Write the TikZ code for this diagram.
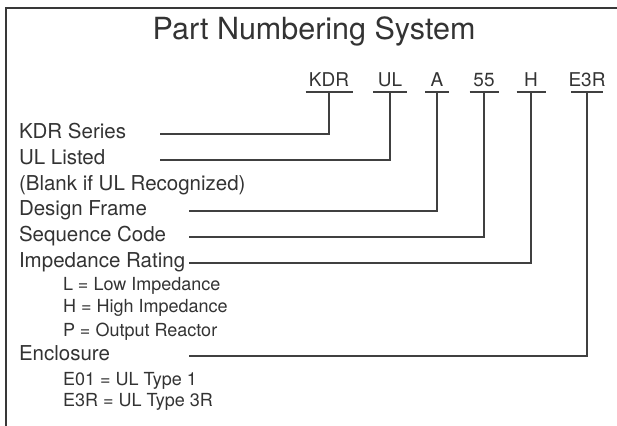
\documentclass[tikz,border=0pt]{standalone}
\usepackage{fontspec}
\setmainfont{TeX Gyre Heros}
\usetikzlibrary{calc}
\definecolor{frameGray}{gray}{0.22}
\definecolor{leadGray}{gray}{0.25}
\definecolor{inkGray}{gray}{0.2}
\def\myGap{4}

\begin{document}
\begin{tikzpicture}[x=1pt,y=-1pt]
      \tikzstyle{every node} = [inner sep=0pt, outer sep=0pt, text=inkGray]
      \tikzstyle{heading} = [font=\fontsize{30.5}{30.5}\selectfont, anchor=base]
      \tikzstyle{codeBox} = [font=\fontsize{19}{19}\selectfont, anchor=base, text depth=0pt, inner ysep=5pt]
      \tikzstyle{fieldText} = [font=\fontsize{20.5}{20.5}\selectfont, anchor=base west]
      \tikzstyle{optionText} = [font=\fontsize{18}{18}\selectfont, anchor=base west]
      \tikzstyle{leader} = [draw=leadGray, line width=1.1pt]
      \useasboundingbox (0,0) rectangle (617,425);
      % Frame
      \draw[frameGray, line width=2.6pt] (6,430) |- (622,8);
      \node[heading](title) at (314,40){Part Numbering System};
      % Code fields
      \node[codeBox, minimum width=47pt](kdr) at (329,87){KDR};
      \node[codeBox, minimum width=34pt](ul) at (390,87){UL};
      \node[codeBox, minimum width=24pt](frame) at (437,87){A};
      \node[codeBox, minimum width=29pt](seq) at (484,87){55};
      \node[codeBox, minimum width=29pt](imp) at (531,87){H};
      \node[codeBox, minimum width=32pt, inner xsep=-3pt](encl) at (587,87){E3R};
      \foreach \f in {kdr,ul,frame,seq,imp,encl}
        \draw[leader] (\f.south west) -- (\f.south east);
      % Descriptions
      \node[fieldText](kdrText) at (19,138){KDR Series};
      \node[fieldText](ulText) at (19,164){UL Listed};
      \node[fieldText](blankText) at (19,190){(Blank if UL Recognized)};
      \node[fieldText](frameText) at (19,215){Design Frame};
      \node[fieldText](seqText) at (19,241){Sequence Code};
      \node[fieldText](impText) at (19,267){Impedance Rating};
      \node[optionText](lowText) at (63,290){L = Low Impedance};
      \node[optionText](highText) at (63,312){H = High Impedance};
      \node[optionText](outText) at (63,336){P = Output Reactor};
      \node[fieldText](enclText) at (19,360){Enclosure};
      \node[optionText](typeOne) at (63,385){E01 = UL Type 1};
      \node[optionText](typeThree) at (63,406){E3R = UL Type 3R};
      % Leader ends
      \coordinate (kdrEnd) at (160,{138-\myGap});
      \coordinate (ulEnd) at (160,{164-\myGap});
      \coordinate (frameEnd) at (189,{215-\myGap});
      \coordinate (seqEnd) at (189,{241-\myGap});
      \coordinate (impEnd) at (189,{267-\myGap});
      \coordinate (enclEnd) at (189,{360-\myGap});
      % Connections
      \foreach \f in {kdr,ul,frame,seq,imp,encl}
        \draw[leader] (\f.south) |- (\f End);
\end{tikzpicture}
\end{document}
